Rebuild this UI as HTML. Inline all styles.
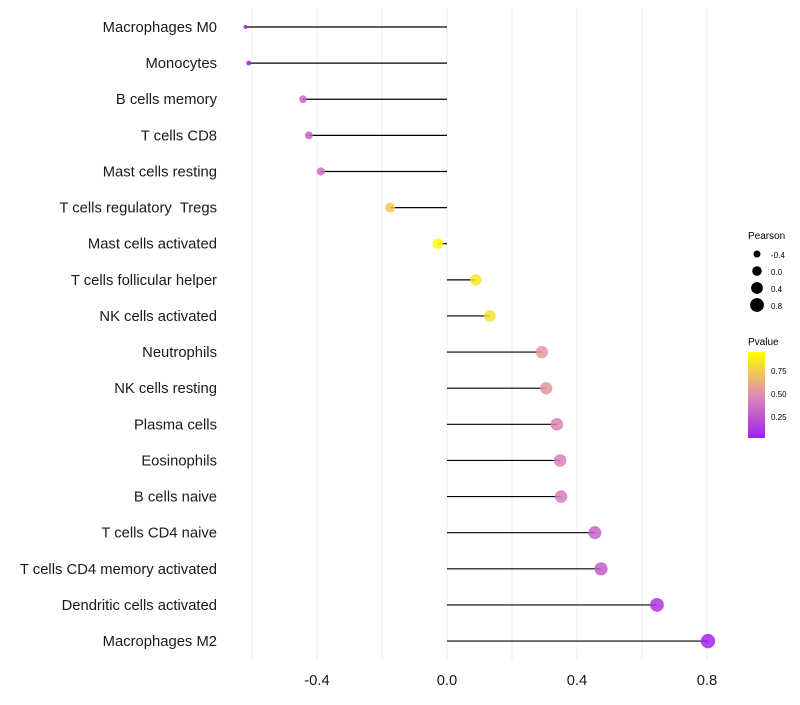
<!DOCTYPE html>
<html><head><meta charset="utf-8"><style>
body{margin:0;background:#fff}
svg{font-family:"Liberation Sans",sans-serif}
text{white-space:pre}
</style></head><body>
<svg id="chart" width="800" height="700" xmlns="http://www.w3.org/2000/svg">
<defs><linearGradient id="pg" x1="0" y1="1" x2="0" y2="0">
<stop offset="0" stop-color="#A020F0"/><stop offset="0.5" stop-color="#E08CB0"/><stop offset="1" stop-color="#FFFF00"/></linearGradient></defs>
<g id="grid"></g><g id="marks"></g><g id="labels"></g>
<g>
<text x="748" y="239" font-size="10">Pearson</text>
<circle cx="757" cy="254" r="3.5" fill="#000"/><text x="771" y="258" font-size="8">-0.4</text>
<circle cx="757" cy="271" r="4.8" fill="#000"/><text x="771" y="275" font-size="8">0.0</text>
<circle cx="757" cy="288" r="5.9" fill="#000"/><text x="771" y="292" font-size="8">0.4</text>
<circle cx="757" cy="305" r="6.9" fill="#000"/><text x="771" y="309" font-size="8">0.8</text>
</g>
<g>
<text x="748" y="345" font-size="10">Pvalue</text>
<rect x="748" y="352" width="17" height="86" fill="url(#pg)"/>
<text x="771" y="374" font-size="8">0.75</text>
<text x="771" y="397" font-size="8">0.50</text>
<text x="771" y="420" font-size="8">0.25</text>
</g>
</svg>
<script>
const categories=["Macrophages M0","Monocytes","B cells memory","T cells CD8","Mast cells resting","T cells regulatory  Tregs","Mast cells activated","T cells follicular helper","NK cells activated","Neutrophils","NK cells resting","Plasma cells","Eosinophils","B cells naive","T cells CD4 naive","T cells CD4 memory activated","Dendritic cells activated","Macrophages M2"];
const pearson=[-0.62,-0.61,-0.443,-0.425,-0.388,-0.175,-0.028,0.089,0.132,0.292,0.305,0.338,0.348,0.351,0.455,0.474,0.646,0.803];
const pvalue=[0.01,0.02,0.32,0.3,0.36,0.75,0.98,0.9,0.86,0.55,0.55,0.45,0.45,0.42,0.3,0.28,0.1,0.02];
const xticks=[-0.4,0.0,0.4,0.8];
const xgrid=[-0.6,-0.4,-0.2,0,0.2,0.4,0.6,0.8];
const NS="http://www.w3.org/2000/svg";
const X=v=>447+v*325, Y=i=>27+i*36.12;
function lerp(a,b,t){return a.map((c,k)=>Math.round(c+(b[k]-c)*t));}
function col(p){const a=[160,32,240],m=[224,140,176],b=[255,255,0];
const c=p<0.5?lerp(a,m,p/0.5):lerp(m,b,(p-0.5)/0.5);return `rgb(${c})`;}
function rad(v){return 2+5.2*Math.sqrt(Math.max(0,(v+0.62)/1.42));}
function mk(t,at,parent){const e=document.createElementNS(NS,t);for(const k in at)e.setAttribute(k,at[k]);document.getElementById(parent).appendChild(e);return e;}
xgrid.forEach(v=>{const l=mk('line',{x1:X(v),x2:X(v),y1:8,y2:660,stroke:'#ebebeb','stroke-width':1},'grid');

});
categories.forEach((c,i)=>{const t=mk('text',{x:217,y:Y(i)+5,'text-anchor':'end','font-size':14.8,fill:'#1a1a1a'},'labels');t.textContent=c;


const l=mk('line',{x1:X(0),x2:X(pearson[i]),y1:Y(i),y2:Y(i),stroke:'#000','stroke-width':1.2},'marks');


const p=mk('circle',{cx:X(pearson[i]),cy:Y(i),r:rad(pearson[i]),fill:col(pvalue[i]),'fill-opacity':0.85},'marks');

});
xticks.forEach(v=>{const t=mk('text',{x:X(v),y:685,'text-anchor':'middle','font-size':14.8,fill:'#1a1a1a'},'labels');t.textContent=v.toFixed(1);

});
</script>
</body></html>
